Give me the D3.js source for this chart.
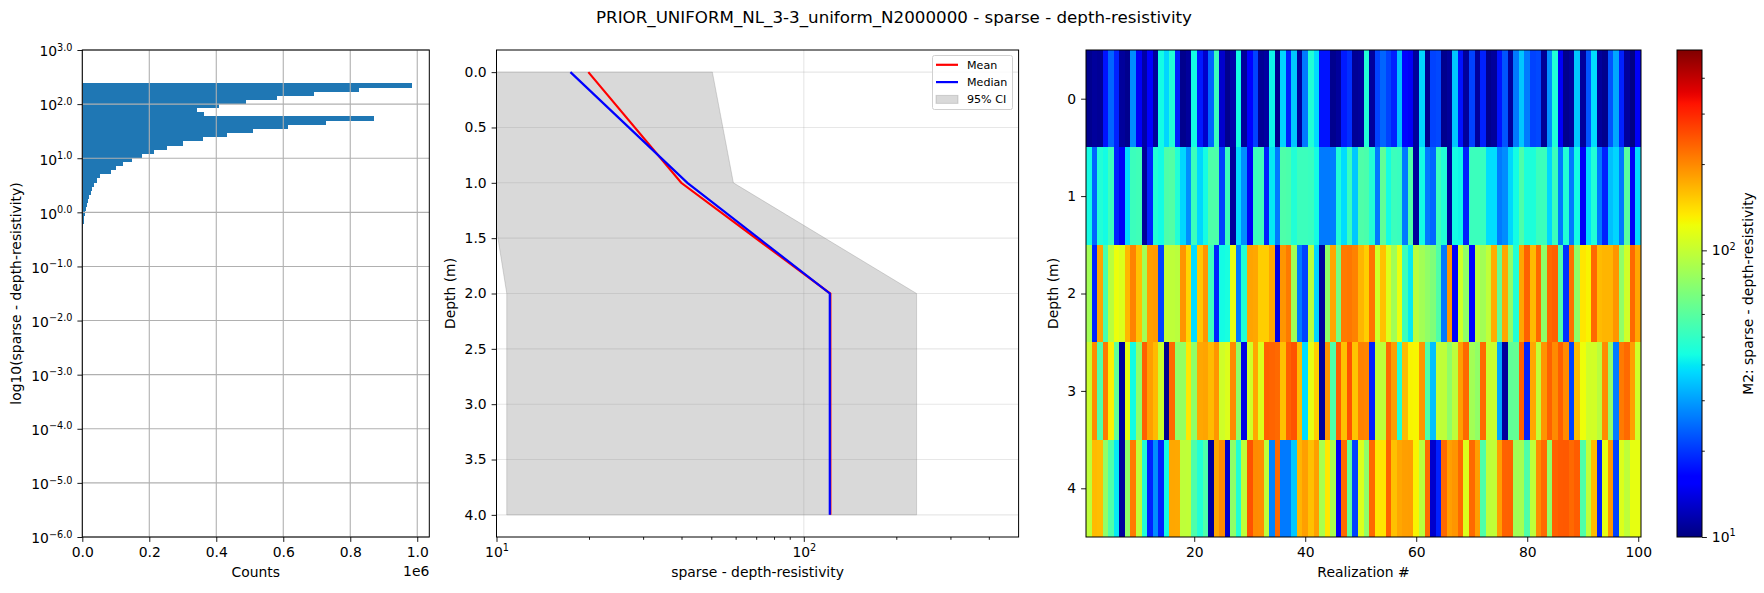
<!DOCTYPE html>
<html>
<head>
<meta charset="utf-8">
<script src="https://cdn.jsdelivr.net/npm/d3@7"></script>
<style>
  body { margin: 0; background: #fff; }
  svg { display: block; font-family: "DejaVu Sans", sans-serif; }
</style>
</head>
<body>
<svg id="fig" width="1764" height="593"></svg>
<script>
// ---- data ----
// left panel: histogram of log10 values, 35 equal bins over this range, bottom bin first
const histLogRange = [-0.277, 2.388];
const histCounts = [2000, 4000, 6000, 7000, 10000, 13000, 16000, 19000, 25000, 28000,
  34000, 43000, 52000, 85000, 102000, 123000, 147000, 177000, 213000, 252000,
  302000, 359000, 431000, 511000, 613000, 729000, 870000, 362000, 341000, 407000,
  488000, 580000, 691000, 825000, 983000];

// middle panel: depth profile
const depths = [0, 1, 2, 3, 4];
const meanVals = [19.9, 39.9, 122, 122, 122];
const medianVals = [17.4, 41.8, 121.5, 121.5, 121.5];
const ciLow = [9.4, 9.46, 10.8, 10.8, 10.8];
const ciHigh = [50.4, 59.0, 232.8, 232.8, 232.8];

// right panel: 100 realizations, one array per depth
const realDepth0 = [10.5, 11, 10.8, 17.5, 24, 18.5, 11, 10.5, 28, 15,
  11.5, 16, 11, 43, 37, 46, 18.5, 10.5, 11, 43,
  18, 13, 24, 52, 13, 10.5, 11.5, 43, 11, 15.5,
  21, 10.8, 11.2, 42, 10.5, 37, 18.5, 35, 11, 26,
  46, 38, 17.5, 17.5, 10.5, 11, 18, 19.5, 10.8, 11,
  46, 11, 21, 24, 21, 18.5, 34, 16.5, 15, 11,
  37, 10.5, 21, 21.5, 10.5, 11, 35, 17.5, 11, 21,
  11, 18.5, 10.5, 11, 17.5, 22.5, 11, 26, 35, 26,
  21, 21.5, 10.8, 28, 46, 15, 10.5, 11, 35, 11,
  22.5, 38, 11, 10.5, 22.5, 31, 18.5, 11, 10.2, 15];
const realDepth1 = [43, 24, 46, 43, 52, 18.5, 15, 38, 52, 53,
  11, 18.5, 46, 43, 57, 58, 46, 37, 28, 52,
  37, 43, 57, 57, 21, 52, 11, 38, 28, 15,
  52, 53, 18.5, 40, 26, 57, 56, 46, 52, 52,
  51, 43, 26, 26, 26.5, 46, 38, 52, 35, 57,
  56, 46, 26, 62, 43, 52, 51, 26, 57, 11,
  43, 26, 24, 52, 46, 11, 43, 42, 18.5, 52,
  52, 51, 38, 38, 26, 28, 37, 43, 57, 45,
  45, 52, 52, 37, 52, 26, 46, 26, 43, 15,
  38, 46, 26, 18.5, 34, 37, 26, 60, 15, 38];
const realDepth2 = [85, 18.5, 180, 55, 95, 120, 112, 165, 205, 158,
  85, 182, 185, 21, 98, 97, 95, 190, 145, 38,
  155, 190, 52, 18.5, 43, 44, 118, 26, 46, 178,
  176, 150, 150, 176, 14, 190, 212, 85, 26, 21,
  95, 37, 11, 78, 176, 68, 212, 215, 205, 166,
  150, 220, 105, 158, 112, 85, 120, 52, 40, 95,
  85, 78, 72, 57, 26, 190, 15, 105, 78, 16.5,
  95, 85, 98, 172, 62, 176, 78, 46, 177, 235,
  162, 228, 78, 228, 235, 57, 19.5, 220, 78, 135,
  128, 228, 162, 166, 166, 190, 78, 105, 228, 176];
const realDepth3 = [102, 198, 57, 212, 130, 62, 11, 118, 43, 78,
  235, 182, 162, 102, 10.5, 228, 78, 80, 135, 78,
  176, 178, 162, 190, 105, 112, 198, 78, 14, 105,
  176, 112, 235, 232, 228, 158, 235, 250, 162, 38,
  118, 150, 11, 190, 57, 240, 158, 250, 156, 205,
  203, 18.5, 98, 97, 228, 182, 46, 162, 128, 127,
  190, 57, 34, 98, 97, 78, 96, 182, 228, 85,
  78, 228, 102, 103, 31, 11, 62, 63, 235, 18.5,
  176, 98, 190, 235, 198, 236, 198, 21, 162, 122,
  105, 106, 95, 198, 78, 26, 212, 228, 182, 105];
const realDepth4 = [97, 162, 160, 78, 57, 40, 11, 78, 212, 97,
  46, 18.5, 28, 18.5, 43, 176, 175, 97, 98, 57,
  46, 57, 11, 176, 198, 13, 78, 46, 97, 250,
  198, 196, 97, 27, 228, 26, 26, 35, 166, 182,
  158, 182, 88, 135, 88, 15, 228, 62, 21, 112,
  78, 228, 135, 136, 235, 158, 176, 182, 183, 128,
  95, 228, 13, 18.5, 228, 182, 190, 228, 112, 228,
  182, 57, 97, 98, 182, 235, 236, 85, 86, 57,
  97, 198, 228, 78, 235, 242, 243, 228, 240, 57,
  97, 162, 18.5, 118, 190, 21, 112, 97, 118, 118];
const realizations = [realDepth0, realDepth1, realDepth2, realDepth3, realDepth4];

const histTicksY = [-6, -5, -4, -3, -2, -1, 0, 1, 2, 3];
const histTicksX = [0, 2e5, 4e5, 6e5, 8e5, 1e6];
const depthTicks = [0, 0.5, 1, 1.5, 2, 2.5, 3, 3.5, 4];
const realTicksX = [20, 40, 60, 80, 100];
const realTicksY = [0, 1, 2, 3, 4];

const titleText = "PRIOR_UNIFORM_NL_3-3_uniform_N2000000 - sparse - depth-resistivity";
const varName = "sparse - depth-resistivity";

// ---- layout ----
const svg = d3.select("#fig");
const TOP = 50, BOT = 537;
const FS = 13.9, SUP = 9.7, TL = 4.9, TLm = 2.8, PAD = 4.9;
const minus = s => s.replace("-", "\u2212");

svg.append("rect").attr("width", 1764).attr("height", 593).attr("fill", "#fff");

svg.append("text").attr("x", 894).attr("y", 22.5).attr("text-anchor", "middle")
  .attr("font-size", 16.7).text(titleText);

function styleAxis(g) {
  g.attr("font-family", null).attr("font-size", FS);
  g.select(".domain").remove();
  g.selectAll(".tick line").attr("stroke", "#000").attr("stroke-width", 0.9);
  g.selectAll(".tick text").attr("fill", "#000");
}
function supLabel(textSel, base, expFn) {
  textSel.each(function (d) {
    const t = d3.select(this);
    t.text(null);
    t.append("tspan").text(base);
    t.append("tspan").attr("dy", -5.7).attr("font-size", SUP).text(expFn(d));
  });
}
function frame(x0, x1) {
  svg.append("rect").attr("x", x0).attr("y", TOP).attr("width", x1 - x0).attr("height", BOT - TOP)
    .attr("fill", "none").attr("stroke", "#000").attr("stroke-width", 1);
}
function yLabel(x, text) {
  svg.append("text").attr("transform", `translate(${x},${(TOP + BOT) / 2}) rotate(-90)`)
    .attr("text-anchor", "middle").attr("dy", "0.35em").attr("font-size", FS).text(text);
}
function xLabel(x, text) {
  svg.append("text").attr("x", x).attr("y", 576.5).attr("text-anchor", "middle")
    .attr("font-size", FS).text(text);
}

// ---- panel 1: histogram ----
const p1L = 82.3, p1R = 429.3;
const x1 = d3.scaleLinear().domain([0, 1.036e6]).range([p1L, p1R]);
const y1 = d3.scaleLinear().domain([-6, 3]).range([BOT, TOP]);
const binW = (histLogRange[1] - histLogRange[0]) / histCounts.length;
const bins = histCounts.map((c, i) => ({
  c, lo: histLogRange[0] + i * binW, hi: histLogRange[0] + (i + 1) * binW
}));
svg.append("g").attr("shape-rendering", "crispEdges").selectAll("rect").data(bins).join("rect")
  .attr("x", x1(0)).attr("y", d => y1(d.hi))
  .attr("width", d => x1(d.c) - x1(0)).attr("height", d => y1(d.lo) - y1(d.hi) + 0.6)
  .attr("fill", "#1f77b4");
const g1 = svg.append("g");
g1.selectAll(".gx").data(histTicksX).join("line")
  .attr("x1", d => x1(d)).attr("x2", d => x1(d)).attr("y1", TOP).attr("y2", BOT)
  .attr("stroke", "#b0b0b0").attr("stroke-width", 1.1);
g1.selectAll(".gy").data(histTicksY).join("line").attr("class", "gy")
  .attr("x1", p1L).attr("x2", p1R).attr("y1", d => y1(d)).attr("y2", d => y1(d))
  .attr("stroke", "#b0b0b0").attr("stroke-width", 1.1);
frame(p1L, p1R);
svg.append("g").attr("transform", `translate(0,${BOT})`)
  .call(d3.axisBottom(x1).tickValues(histTicksX).tickSize(TL).tickPadding(PAD)
    .tickFormat(d => d3.format(".1f")(d / 1e6)))
  .call(styleAxis);
const ax1y = svg.append("g").attr("transform", `translate(${p1L},0)`)
  .call(d3.axisLeft(y1).tickValues(histTicksY).tickSize(TL).tickPadding(PAD))
  .call(styleAxis);
ax1y.selectAll(".tick text").attr("dy", "0.42em")
  .call(supLabel, "10", d => minus(d3.format(".1f")(d)));
svg.append("text").attr("x", p1R).attr("y", 575.7).attr("text-anchor", "end")
  .attr("font-size", FS).text("1e6");
xLabel((p1L + p1R) / 2, "Counts");
yLabel(16, "log10(" + varName + ")");

// ---- panel 2: depth profile ----
const p2L = 496.5, p2R = 1018.6;
const x2 = d3.scaleLog().domain([10, 500]).range([p2L, p2R]);
const y2 = d3.scaleLinear().domain([-0.2, 4.2]).range([TOP, BOT]);
svg.append("clipPath").attr("id", "clip2").append("rect")
  .attr("x", p2L).attr("y", TOP).attr("width", p2R - p2L).attr("height", BOT - TOP);
const g2 = svg.append("g").attr("clip-path", "url(#clip2)");
g2.selectAll(".gy").data(depthTicks).join("line").attr("class", "gy")
  .attr("x1", p2L).attr("x2", p2R).attr("y1", d => y2(d)).attr("y2", d => y2(d))
  .attr("stroke", "#b0b0b0").attr("stroke-opacity", 0.3).attr("stroke-width", 1.1);
g2.append("line").attr("x1", x2(100)).attr("x2", x2(100)).attr("y1", TOP).attr("y2", BOT)
  .attr("stroke", "#b0b0b0").attr("stroke-opacity", 0.3).attr("stroke-width", 1.1);
const ciPts = depths.map((d, i) => [x2(ciLow[i]), y2(d)])
  .concat(depths.map((d, i) => [x2(ciHigh[i]), y2(d)]).reverse());
g2.append("path").attr("d", d3.line()(ciPts) + "Z")
  .attr("fill", "gray").attr("fill-opacity", 0.3)
  .attr("stroke", "gray").attr("stroke-opacity", 0.3).attr("stroke-width", 1);
const profLine = vals => d3.line()(depths.map((d, i) => [x2(vals[i]), y2(d)]));
g2.append("path").attr("d", profLine(meanVals)).attr("fill", "none")
  .attr("stroke", "red").attr("stroke-width", 2.2);
g2.append("path").attr("d", profLine(medianVals)).attr("fill", "none")
  .attr("stroke", "blue").attr("stroke-width", 2.2);
frame(p2L, p2R);
const ax2x = svg.append("g").attr("transform", `translate(0,${BOT})`)
  .call(d3.axisBottom(x2).tickValues([10, 100]).tickSize(TL).tickPadding(PAD))
  .call(styleAxis);
ax2x.selectAll(".tick text").call(supLabel, "10", d => String(Math.round(Math.log10(d))));
svg.append("g").attr("transform", `translate(0,${BOT})`)
  .call(d3.axisBottom(x2).tickValues([20, 30, 40, 50, 60, 70, 80, 90, 200, 300, 400])
    .tickSize(TLm).tickFormat(""))
  .call(styleAxis);
svg.append("g").attr("transform", `translate(${p2L},0)`)
  .call(d3.axisLeft(y2).tickValues(depthTicks).tickSize(TL).tickPadding(PAD)
    .tickFormat(d3.format(".1f")))
  .call(styleAxis);
xLabel((p2L + p2R) / 2, varName);
yLabel(450, "Depth (m)");

// legend
const legItems = [
  { label: "Mean", color: "red", type: "line" },
  { label: "Median", color: "blue", type: "line" },
  { label: "95% CI", color: "gray", type: "patch" }
];
const legX = 932.5, legY = 55.5, legW = 80, legH = 54;
const leg = svg.append("g");
leg.append("rect").attr("x", legX).attr("y", legY).attr("width", legW).attr("height", legH)
  .attr("rx", 2).attr("fill", "#fff").attr("fill-opacity", 0.8)
  .attr("stroke", "#d0d0d0").attr("stroke-width", 1);
leg.selectAll("g").data(legItems).join("g")
  .attr("transform", (d, i) => `translate(${legX + 3.5},${legY + 9.3 + i * 17.3})`)
  .each(function (d) {
    const g = d3.select(this);
    if (d.type === "line") {
      g.append("line").attr("x1", 0).attr("x2", 22).attr("y1", 0).attr("y2", 0)
        .attr("stroke", d.color).attr("stroke-width", 2.2);
    } else {
      g.append("rect").attr("x", 0).attr("y", -4).attr("width", 22).attr("height", 8)
        .attr("fill", d.color).attr("fill-opacity", 0.3)
        .attr("stroke", d.color).attr("stroke-opacity", 0.3);
    }
    g.append("text").attr("x", 31).attr("y", 0).attr("dy", "0.36em")
      .attr("font-size", 11.1).text(d.label);
  });

// ---- panel 3: realizations heatmap ----
const p3L = 1086, p3R = 1641;
const x3 = d3.scaleLinear().domain([0.5, 100.5]).range([p3L, p3R]);
const y3 = d3.scaleLinear().domain([-0.5, 4.5]).range([TOP, BOT]);
const jetR = d3.scaleLinear().domain([0, 0.35, 0.66, 0.89, 1]).range([0, 0, 1, 1, 0.5]).clamp(true);
const jetG = d3.scaleLinear().domain([0, 0.125, 0.375, 0.64, 0.91, 1]).range([0, 0, 1, 1, 0, 0]).clamp(true);
const jetB = d3.scaleLinear().domain([0, 0.11, 0.34, 0.65, 1]).range([0.5, 1, 1, 0, 0]).clamp(true);
const jet = t => d3.rgb(jetR(t) * 255, jetG(t) * 255, jetB(t) * 255).formatHex();
const norm = d3.scaleLog().domain([10, 500]).range([0, 1]).clamp(true);

const cells = [];
realizations.forEach((row, di) => row.forEach((v, ri) => cells.push({ depth: di, real: ri + 1, v })));
svg.append("g").attr("shape-rendering", "crispEdges").selectAll("rect").data(cells).join("rect")
  .attr("x", d => x3(d.real - 0.5)).attr("y", d => y3(d.depth - 0.5))
  .attr("width", d => x3(d.real + 0.5) - x3(d.real - 0.5) + 0.4)
  .attr("height", d => y3(d.depth + 0.5) - y3(d.depth - 0.5) + 0.4)
  .attr("fill", d => jet(norm(d.v)));
frame(p3L, p3R);
svg.append("g").attr("transform", `translate(0,${BOT})`)
  .call(d3.axisBottom(x3).tickValues(realTicksX).tickSize(TL).tickPadding(PAD).tickFormat(d3.format("d")))
  .call(styleAxis);
svg.append("g").attr("transform", `translate(${p3L},0)`)
  .call(d3.axisLeft(y3).tickValues(realTicksY).tickSize(TL).tickPadding(PAD).tickFormat(d3.format("d")))
  .call(styleAxis);
xLabel((p3L + p3R) / 2, "Realization #");
yLabel(1053, "Depth (m)");

// colorbar
const cbL = 1677, cbR = 1702;
const cbScale = d3.scaleLog().domain([10, 500]).range([BOT, TOP]);
const grad = svg.append("defs").append("linearGradient").attr("id", "jetgrad")
  .attr("x1", 0).attr("y1", 1).attr("x2", 0).attr("y2", 0);
grad.selectAll("stop").data(d3.range(0, 1.0001, 1 / 128)).join("stop")
  .attr("offset", d => d).attr("stop-color", d => jet(d));
svg.append("rect").attr("x", cbL).attr("y", TOP).attr("width", cbR - cbL).attr("height", BOT - TOP)
  .attr("fill", "url(#jetgrad)");
svg.append("rect").attr("x", cbL).attr("y", TOP).attr("width", cbR - cbL).attr("height", BOT - TOP)
  .attr("fill", "none").attr("stroke", "#000").attr("stroke-width", 1);
const cbAx = svg.append("g").attr("transform", `translate(${cbR},0)`)
  .call(d3.axisRight(cbScale).tickValues([10, 100]).tickSize(TL).tickPadding(PAD))
  .call(styleAxis);
cbAx.selectAll(".tick text").call(supLabel, "10", d => String(Math.round(Math.log10(d))));
svg.append("g").attr("transform", `translate(${cbR},0)`)
  .call(d3.axisRight(cbScale).tickValues([20, 30, 40, 50, 60, 70, 80, 90, 200, 300, 400])
    .tickSize(TLm).tickFormat(""))
  .call(styleAxis);
yLabel(1748, "M2: " + varName);
</script>
</body>
</html>
